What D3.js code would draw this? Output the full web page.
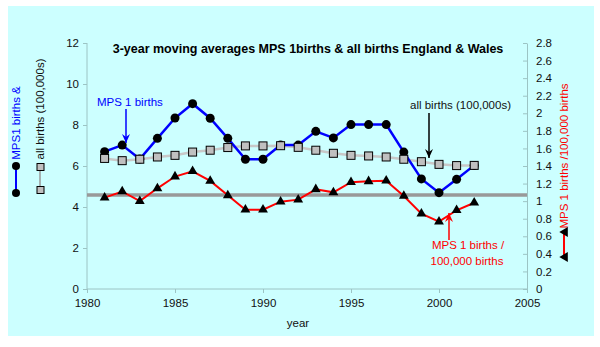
<!DOCTYPE html>
<html><head><meta charset="utf-8">
<script src="https://cdn.jsdelivr.net/npm/d3@7"></script>
<style>body{margin:0;background:#fff}svg{display:block;font-family:Arial,"Liberation Sans",sans-serif}</style>
</head><body><svg id="c" width="600" height="347"></svg>
<script>
const years = [1981,1982,1983,1984,1985,1986,1987,1988,1989,1990,1991,1992,1993,1994,1995,1996,1997,1998,1999,2000,2001,2002];
const mpsBirths = [6.70,7.02,6.34,7.35,8.34,9.04,8.33,7.35,6.33,6.33,7.02,7.02,7.69,7.37,8.02,8.02,8.02,6.68,5.37,4.70,5.35,6.03];
const allBirths = [6.37,6.26,6.33,6.44,6.52,6.68,6.77,6.90,6.98,6.98,6.99,6.91,6.77,6.62,6.52,6.49,6.44,6.33,6.21,6.08,6.02,6.03];
const mpsRate = [1.04,1.11,1.00,1.146,1.28,1.34,1.23,1.066,0.903,0.903,0.994,1.017,1.135,1.10,1.215,1.226,1.233,1.059,0.857,0.766,0.896,0.982];
const meanRate = [1.07];
const xTicks = [1980,1985,1990,1995,2000,2005];
const leftTicks = [0,2,4,6,8,10,12];
const rightTicks = [0,0.2,0.4,0.6,0.8,1,1.2,1.4,1.6,1.8,2,2.2,2.4,2.6,2.8];

const svg = d3.select("#c");
svg.append("rect").attr("x",8).attr("y",6).attr("width",586).attr("height",330).attr("fill","#ccffff");

const x = d3.scaleLinear().domain([1980,2005]).range([87,527]);
const yL = d3.scaleLinear().domain([0,12]).range([289,43]);
const yR = d3.scaleLinear().domain([0,2.8]).range([289,43]);
const axisCol = "#9cc4c4";

// axes
const gx = svg.append("g").attr("transform","translate(0,289)")
  .call(d3.axisBottom(x).tickValues(xTicks).tickFormat(d3.format("d")).tickSize(4).tickPadding(6));
const gl = svg.append("g").attr("transform","translate(87,0)")
  .call(d3.axisLeft(yL).tickValues(leftTicks).tickSize(4).tickPadding(4));
const gr = svg.append("g").attr("transform","translate(527,0)")
  .call(d3.axisRight(yR).tickValues(rightTicks).tickFormat(d=>String(d)).tickSizeInner(-4).tickSizeOuter(0).tickPadding(9));
[gx,gl,gr].forEach(g=>{
  g.select(".domain").attr("stroke",axisCol);
  g.selectAll(".tick line").attr("stroke",axisCol);
  g.selectAll("text").attr("fill","#111").style("font-size","11.5px").style("font-family","Arial, 'Liberation Sans', sans-serif");
});
gx.select(".domain").attr("d","M87,0H527");
gl.select(".domain").attr("d","M0,43V289");

// mean line
svg.append("line").attr("x1",x(1980)).attr("x2",x(2005))
  .attr("y1",yR(meanRate[0])).attr("y2",yR(meanRate[0]))
  .attr("stroke","#999").attr("stroke-width",3.5);

const lineL = d3.line().x((d,i)=>x(years[i])).y(d=>yL(d));
const lineR = d3.line().x((d,i)=>x(years[i])).y(d=>yR(d));
svg.append("path").attr("d",lineL(allBirths)).attr("fill","none").attr("stroke","#c8c8c8").attr("stroke-width",2.5);
svg.append("path").attr("d",lineR(mpsRate)).attr("fill","none").attr("stroke","#ff0000").attr("stroke-width",2);
svg.append("path").attr("d",lineL(mpsBirths)).attr("fill","none").attr("stroke","#0000ff").attr("stroke-width",2.5);

svg.selectAll(".ci").data(mpsBirths).enter().append("circle")
  .attr("cx",(d,i)=>x(years[i])).attr("cy",d=>yL(d)).attr("r",4.5).attr("fill","#000");
const tri = d3.symbol().type(d3.symbolTriangle).size(42);
svg.selectAll(".tr").data(mpsRate).enter().append("path")
  .attr("d",tri).attr("transform",(d,i)=>`translate(${x(years[i])},${yR(d)})`).attr("fill","#000");
svg.selectAll(".sq").data(allBirths).enter().append("rect")
  .attr("x",(d,i)=>x(years[i])-4).attr("y",d=>yL(d)-4).attr("width",8).attr("height",8)
  .attr("fill","#c0c0c0").attr("stroke","#000").attr("stroke-width",1);

// title
svg.append("text").attr("x",308).attr("y",53).attr("text-anchor","middle")
  .style("font-size","12.5px").style("font-weight","bold").attr("fill","#000")
  .text("3-year moving averages MPS 1births & all births England & Wales");

// x label
svg.append("text").attr("x",298).attr("y",327).attr("text-anchor","middle").style("font-size","11.5px").attr("fill","#111").text("year");

// arrows
function arrow(x0,y0,y1,col){
  svg.append("line").attr("x1",x0).attr("x2",x0).attr("y1",y0).attr("y2",y1).attr("stroke",col).attr("stroke-width",1.5);
  const dir = y1>y0?1:-1;
  svg.append("path").attr("d",`M${x0-4},${y1-dir*9}L${x0},${y1}L${x0+4},${y1-dir*9}L${x0},${y1-dir*6}Z`).attr("fill",col);
}
svg.append("text").attr("x",97).attr("y",106).style("font-size","11.5px").attr("fill","#0000ff").text("MPS 1 births");
arrow(126,109,143,"#0000ff");
svg.append("text").attr("x",410).attr("y",109).style("font-size","11.5px").attr("fill","#111").text("all births (100,000s)");
arrow(429,113,158,"#000");
svg.append("text").attr("x",468).attr("y",249).attr("text-anchor","middle").style("font-size","11.5px").attr("fill","#ff0000").text("MPS 1 births /");
svg.append("text").attr("x",467).attr("y",265).attr("text-anchor","middle").style("font-size","11.5px").attr("fill","#ff0000").text("100,000 births");
arrow(449,240,213,"#ff0000");

// left axis titles + legend symbols
svg.append("text").attr("transform","translate(20,123) rotate(-90)").attr("text-anchor","middle")
  .style("font-size","11.5px").attr("fill","#0000ff").text("MPS1 births &");
svg.append("text").attr("transform","translate(44,109) rotate(-90)").attr("text-anchor","middle")
  .style("font-size","11.5px").attr("fill","#111").text("all births (100,000s)");
svg.append("line").attr("x1",16).attr("x2",16).attr("y1",166).attr("y2",193).attr("stroke","#0000ff").attr("stroke-width",2);
[166,193].forEach(cy=>svg.append("circle").attr("cx",16).attr("cy",cy).attr("r",4).attr("fill","#000"));
svg.append("line").attr("x1",40).attr("x2",40).attr("y1",167).attr("y2",190).attr("stroke","#999").attr("stroke-width",1.5);
[167,190].forEach(cy=>svg.append("rect").attr("x",37).attr("y",cy-3.5).attr("width",7).attr("height",7).attr("fill","#c0c0c0").attr("stroke","#000"));

// right axis title + legend
svg.append("text").attr("transform","translate(568,156) rotate(-90)").attr("text-anchor","middle")
  .style("font-size","11.5px").attr("fill","#ff0000").text("MPS 1 births /100,000 births");
svg.append("line").attr("x1",564).attr("x2",564).attr("y1",232).attr("y2",257).attr("stroke","#ff0000").attr("stroke-width",2);
[232,257].forEach(cy=>svg.append("path").attr("d",tri).attr("transform",`translate(565,${cy}) rotate(-90)`).attr("fill","#000"));
</script></body></html>
